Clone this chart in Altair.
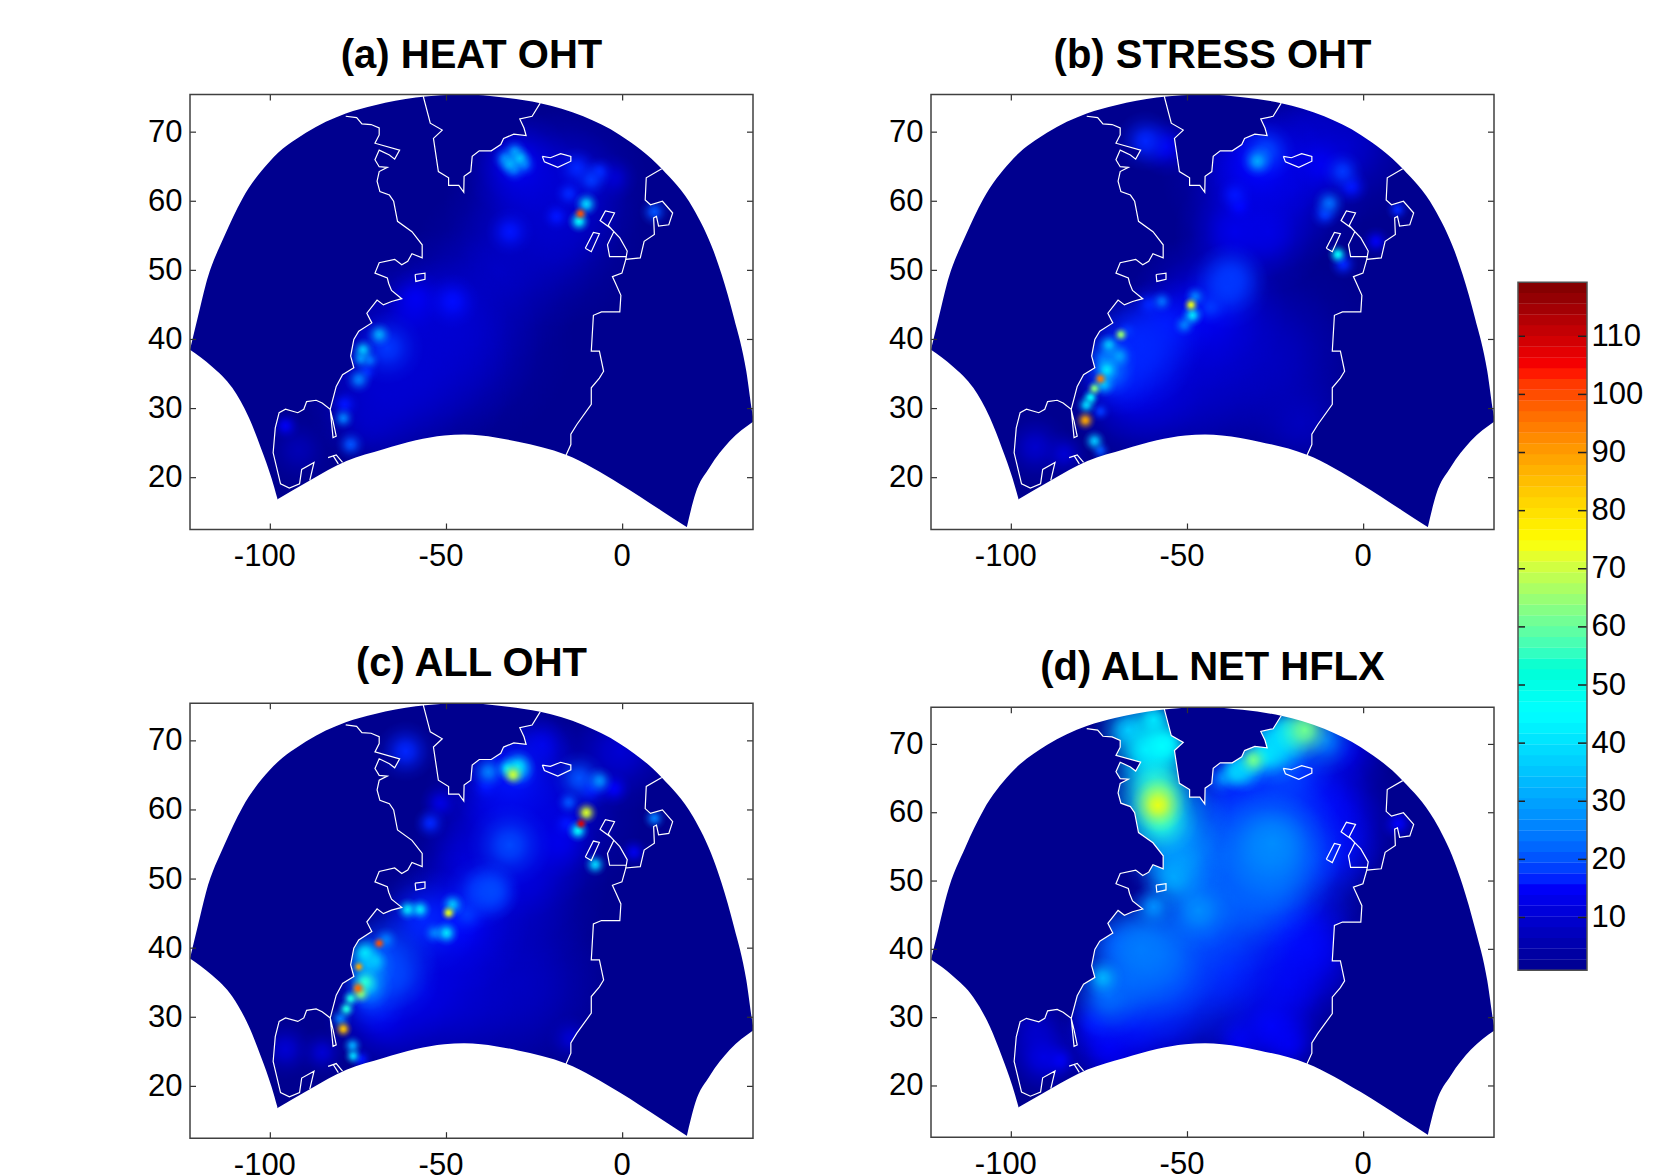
import altair as alt
import pandas as pd

# ---------- axes ----------
LON_MIN, LON_MAX = -122.8, 37.0
LAT_MIN, LAT_MAX = 12.5, 75.45
X_TICKS = [-100, -50, 0]
Y_TICKS = [20, 30, 40, 50, 60, 70]
CB_TICKS = [10, 20, 30, 40, 50, 60, 70, 80, 90, 100, 110]
CB_MIN, CB_MAX, CB_VIEW_MAX = 0.93, 119.3, 151.6
CB_LEVELS = [1.86,3.71,5.56,7.41,9.26,11.11,12.96,14.81,16.66,18.51,20.36,22.21,24.06,25.91,27.76,29.61,
             31.46,33.31,35.16,37.01,38.86,40.71,42.56,44.41,46.26,48.11,49.96,51.81,53.66,55.51,57.36,59.21,
             61.06,62.91,64.76,66.61,68.46,70.31,72.16,74.01,75.86,77.71,79.56,81.41,83.26,85.11,86.96,88.81,
             90.66,92.51,94.36,96.21,98.06,99.91,101.76,103.61,105.46,107.31,109.16,111.01,112.86,114.71,116.56,118.41]

# ---------- colours ----------
DARK = "#00008f"
JET_DOMAIN = [1, 15.75, 45.25, 74.75, 104.25, 119]
JET_RGB = [(0, 0, 143), (0, 0, 255), (0, 255, 255), (255, 255, 0), (255, 0, 0), (128, 0, 0)]
FONT = "Liberation Sans"

# ---------- domain edge (lon, lat) ----------
UPPER_EDGE = [(-122.8,38.5),(-120.5,43.4),(-118.3,48.0),(-113.0,55.0),(-108.0,60.3),(-100.3,65.7),(-89.9,69.9),(-78.6,72.7),
              (-70.3,73.9),(-58.7,75.0),(-44.8,75.45),(-34.4,75.06),(-23.4,74.2),(-11.2,72.3),(-0.8,69.6),(11.1,64.7),
              (20,59),(25.8,52.8),(28.1,49.4),(31.6,43.1),(35.1,35.4),(36.8,29.4),(37,28.8)]
LOWER_LEFT = [(-122.8,38.5),(-116.6,36.1),(-110.8,33),(-106.1,28.7),(-102.6,24.2),(-99.7,20),(-98,17)]
LOWER_MID = [(-98.2,16.8),(-88.8,19.6),(-78.4,22.4),(-67.9,24.1),(-58.7,25.4),(-50.6,26.1),(-45,26.25),(-40.2,26.1),(-29.7,25.2),
             (-16.1,23.3),(-0.8,19.1),(10.8,15.3),(18.4,12.8)]
LOWER_RIGHT = [(18.2,12.8),(20.6,17.6),(24.7,21.5),(30.4,25.3),(37,28.1)]

# ---------- coast lines (lon, lat) ----------
NA_COAST = [(-78.6,72.3),(-75.5,72.1),(-74.0,71.2),(-71.4,71.1),(-69.1,70.6),(-69.1,69.6),(-70.3,68.4),(-63.3,67.4),(-64.7,66.1),
            (-66.2,66.7),(-69.1,67.4),(-70.3,66.0),(-69.1,65.0),(-66.8,64.9),(-69.1,64.3),(-69.7,62.9),(-68.9,61.4),(-66.2,60.9),
            (-65.0,60.0),(-63.9,57.1),(-59.8,55.6),(-56.9,53.7),(-56.9,51.8),(-59.8,52.4),(-61.0,51.3),(-62.7,50.8),(-64.7,51.6),
            (-69.1,51.1),(-70.3,49.6),(-66.8,48.9),(-66.4,48.1),(-65.6,47.1),(-62.7,45.9),(-65.6,45.5),(-67.9,45.0),(-69.7,45.7),
            (-72.6,43.8),(-71.2,42.4),(-74.9,41.2),(-76.3,40.0),(-77.2,37.6),(-76.3,35.9),(-79.5,34.9),(-81.3,33.2),(-83.0,29.9),
            (-82.2,25.8),(-81.3,26.0),(-82.2,28.2),(-83.0,29.9),(-85.3,30.8),(-87.0,31.2),(-89.7,31.0),(-90.5,29.9),(-92.2,29.4),
            (-95.7,29.9),(-97.5,29.4),(-98.6,27.2),(-99.2,23.6),(-97.1,19.1),(-94.6,18.5),(-91.7,19.1),(-91.1,21.2),(-87.6,22.2),(-88.8,19.6)]
GREENLAND = [(-56.6,75.2),(-54.6,71.3),(-51.2,70.3),(-53.7,69.1),(-52.3,64.3),(-49.4,63.4),(-49.4,62.3),(-46.5,62.3),(-45.1,61.3),
             (-45.0,63.6),(-43.1,64.3),(-42.7,66.5),(-40.7,67.3),(-37.3,67.3),(-34.6,68.2),(-33.8,69.1),(-30.9,69.7),(-27.4,69.5),
             (-28.0,70.6),(-29.2,71.9),(-25.7,72.3),(-23.4,74.2)]
ICELAND = [(-22.8,66.5),(-20.5,66.3),(-17.6,66.9),(-14.7,66.5),(-14.7,65.8),(-18.4,64.9),(-22.2,65.7),(-22.8,66.5)]
IRELAND = [(-10.6,53.2),(-8.3,55.5),(-6.6,55.3),(-8.9,52.7),(-10.6,53.2)]
NEWFOUNDLAND = [(-58.9,49.4),(-56.1,49.6),(-56.1,48.7),(-58.7,48.4),(-58.9,49.4)]
EUROPE = [(11.1,64.7),(6.7,63.4),(6.4,60.2),(7.9,59.5),(11.3,60.0),(14.2,58.3),(13.1,56.6),(10.2,56.4),(9.6,57.8),(8.8,57.6),
          (9.0,55.2),(6.1,54.2),(5.0,51.8),(0.9,51.6),(-0.2,49.6),(-2.9,49.1),(-2.0,48.1),(-0.5,46.4),(-0.8,44.0),(-6.0,44.0),
          (-8.3,43.5),(-8.9,38.3),(-6.6,38.3),(-5.4,35.4),(-6.6,34.4),(-8.9,33.0),(-8.9,30.6),(-13.0,27.7),(-14.7,26.3),(-14.7,24.8),(-16.1,23.2)]
BRITAIN = [(0.9,51.6),(1.3,52.8),(-0.8,54.7),(-3.4,56.1),(-6.4,57.2),(-4.9,58.6),(-2.3,58.3),(-4.1,56.5),(-2.5,55.6),(-4.3,53.7),(-3.7,52.0),(0.9,52.0)]
CUBA_A = [(-83.6,22.9),(-81.3,23.3),(-79.5,22.2)]
CUBA_B = [(-82.2,23.2),(-80.7,22.0)]
COASTS = [NA_COAST, GREENLAND, ICELAND, IRELAND, NEWFOUNDLAND, EUROPE, BRITAIN, CUBA_A, CUBA_B]

# land masks: coast plus closing corners
LAND_WEST = [(-78.6,78)] + NA_COAST + [(-89,8),(-128,8),(-128,78)]
LAND_GREEN = GREENLAND + [(-23.4,78),(-56.6,78)]
LAND_EAST = EUROPE + [(-16.1,8),(42,8),(42,78),(11.1,78)]
LANDS = [LAND_WEST, LAND_GREEN, LAND_EAST]

# ---------- field spots: lon, lat, value, diameter ----------
SPOTS_A = [(-30,65.5,14,90),(-33.4,66.2,30,22),(-32.1,65.4,36,22),(-30.7,64.6,28,22),(-30.7,67.2,32,22),(-29.2,66.2,38,22),(-27.9,65.3,28,22),
 (-12,58.2,95,13),(-12.4,57.1,45,20),(-10.3,59.6,40,22),(-15.3,61.1,20,25),(-18.8,57.8,18,25),(-8.9,63.1,22,30),(-13,64.8,20,35),(-6.6,64.3,20,25),
 (9,58.5,25,25),(-32,55.6,18,40),(-2.5,63.4,10,40),(-25,60,9,150),(-20,55,8,150),(-15,62,10,130),(-35,50,8,150),
 (-48.3,45.5,17,45),(-50,43.5,10,100),(-69.1,40.7,35,22),(-66.8,38.8,22,60),(-73.7,38.5,38,20),(-74.3,37.2,32,20),(-71.7,37,28,18),(-74.9,34.2,30,24),
 (-72.6,35.4,20,20),(-78.9,30.6,18,25),(-79.3,28.6,30,20),(-77.2,24.8,25,25),(-95.7,27.5,14,25),(-58.7,45.9,14,50),(-60,43.5,11,50),
 (-62,36,10,180),(-68,32,9,130),(-55,40,9,180),(-45,40,7,180),(-72,28,7,80),(-92,24,6,60)]
SPOTS_B = [(-30.1,65.8,35,28),(-27.8,67.2,24,50),(-29.5,65.6,16,110),(-61.9,68.7,20,50),(-56.1,67.9,14,50),(-6,64.3,22,35),(-3.5,62.1,18,30),
 (-9.8,59.7,28,28),(-11,58.1,22,25),(-7.3,52.3,45,18),(-5.8,50.9,20,25),(-36.5,60.9,18,30),(-35.3,59.3,16,25),(9.6,58.8,20,20),(3.5,54.2,14,25),
 (-12.2,65.3,14,60),(-37.6,48.9,22,60),(-36.5,55.6,13,100),(-27.2,55.6,12,100),(-20,62,10,130),(-5,68,9,130),(-15,70,8,100),(-35,64,9,130),
 (-49,45,72,14),(-48.6,43.5,42,20),(-47.8,46.2,30,20),(-50.9,42.1,30,20),(-43.4,44.7,22,30),(-38.8,47.6,22,70),(-57.3,45.5,28,20),(-60.8,45,20,25),
 (-68.9,40.7,62,14),(-67.1,41.2,22,18),(-72.3,39.2,38,20),(-69.4,37.6,34,22),(-73.5,37.1,30,20),(-72.9,35.6,42,22),(-74.7,34.3,90,13),(-73.7,33.5,38,22),
 (-76.4,32.9,60,14),(-77.5,31.6,45,16),(-78.7,30.5,40,18),(-74.7,29.6,22,18),(-79,28.3,85,18),(-76.4,25.3,38,20),(-74.7,23.9,25,18),
 (-72,37,29,45),(-71.5,35,27,40),(-65.4,37.8,20,100),(-63.1,39.2,20,100),(-70.6,34.9,20,70),(-56.1,42.1,18,80),(-44.6,44,14,130),(-65.4,32.5,12,110),(-56.1,34,10,170),(-41,37.8,8,200),
 (-27,37,7,180),(-93.2,24.4,9,60),(-85,23.4,10,40),(-18,28,7,100)]
SPOTS_C = [(-31.1,65.1,68,20),(-29.7,66.3,42,30),(-32.6,66,42,22),(-29.2,65.5,28,30),(-31.5,65.5,18,110),(-38.1,65.5,30,30),(-38.7,63.4,18,25),
 (-61.6,68.5,20,50),(-54.6,58.1,20,28),(-51.7,61,12,35),(-10.3,59.6,70,20),(-11.8,58,108,12),(-12.7,57,45,20),(-15.3,61.1,25,22),(-6.6,64.2,32,25),
 (-12.4,64.6,25,45),(-8.9,63.1,18,35),(-2.5,63.1,15,30),(-7.8,52.1,40,20),(9,58.8,30,20),(3.2,53.9,13,25),(-32.1,54.9,24,70),(-15.9,58,18,25),
 (-18.2,55.4,13,60),(-40.2,48.1,22,60),(-37.8,48.1,20,50),(-0.8,68.5,10,100),(-22.8,69.4,12,60),(-35,60,11,130),(-20,60,10,150),(-28,56,12,130),
 (-45,53,9,100),(-30,50,11,150),
 (-49.4,45.1,72,14),(-48.3,46.3,38,22),(-50,42.2,42,22),(-53.5,42.2,30,20),(-61,45.6,42,20),(-57.5,45.6,42,20),(-44.2,44.9,22,35),(-37.2,48.3,24,50),
 (-69.1,40.7,95,12),(-67.2,41.2,30,22),(-73.1,39.3,42,28),(-70.2,38.1,38,22),(-74.9,37.3,85,11),(-73.1,35.1,50,24),(-75.1,34.2,92,14),(-74.3,33.4,60,18),
 (-77.2,32.7,48,16),(-78.4,31.2,48,16),(-80.1,29.8,30,20),(-79.3,28.3,82,16),(-76.7,25.9,35,18),(-76.5,24.4,40,16),(-74.2,23.9,18,20),
 (-72,37.5,36,45),(-72,34.5,36,40),(-68,38.5,24,90),(-65.6,36.1,24,80),(-71.4,32.7,22,60),(-56.4,43.9,20,90),(-47.1,43.9,16,120),(-68,30.3,13,100),(-56.4,33.7,12,150),(-41.4,35.1,8,200),
 (-29.7,35.1,7,180),(-95.7,25.4,10,50),(-85.3,24.9,10,40),(-14.7,26.9,10,40)]
SPOTS_D = [(-58.4,61.1,72,45),(-58.4,62.8,55,60),(-57.3,58.9,50,60),(-58.4,60.9,38,120),(-59.6,65.3,40,70),(-61.9,69.2,42,70),(-57.3,69.7,45,60),
 (-66.8,72.1,38,60),(-59.6,73.6,42,50),(-56.1,70.1,40,40),(-53.8,56,30,100),(-51.5,53.1,32,80),(-53.8,50.6,35,60),
 (-16.8,72.1,58,50),(-21.4,71.6,42,60),(-24,70.5,40,50),(-28,68.5,42,40),(-35,66.4,40,40),(-40,65,30,30),(-11,70.6,30,60),(-26,69.2,38,60),(-31.3,67.7,58,28),(-36.5,65.8,38,30),(-33,66.5,35,40),(-5.2,69.2,12,80),
 (-22.6,68.2,25,90),(-21.4,65.3,20,100),(-33,63.8,18,100),(-25,63,14,150),
 (-26,55.5,32,120),(-27.2,52.6,28,120),(-38.8,53.6,23,140),(-21.4,60.4,18,140),(-9.8,60.4,14,120),(-36.5,59.4,20,130),(-44.6,50.6,25,130),(-15.6,53,20,120),
 (-7.5,55.5,13,100),(9.8,58.4,15,30),
 (-46.9,45.7,32,70),(-59.6,46.2,32,40),(-35.3,46.9,26,120),(-27.2,49.1,26,100),(-44.6,42,23,140),(-63.1,40,30,100),(-58.4,39,28,110),(-68.9,40.5,24,60),
 (-74,35.8,36,35),(-72.3,33.1,28,70),(-65.4,35.6,26,120),(-53.8,35.6,22,140),(-38.8,37,18,160),(-21.4,43.4,17,140),(-15.6,40,14,110),(-21.4,35.1,13,120),
 (-26,28.7,15,90),(-35.3,26.7,13,60),(-21.4,26.2,13,60),(-65.4,29.2,15,110),(-75.8,29.2,17,60),(-72.3,25.7,14,80),(-56.1,30.1,10,120),(-90.9,24.2,12,70),
 (-93.2,28.2,8,70),(-86.2,23.7,14,30)]


def jet(v):
    for i in range(len(JET_DOMAIN) - 1):
        a, b = JET_DOMAIN[i], JET_DOMAIN[i + 1]
        if v <= b:
            t = max(0.0, (v - a) / (b - a))
            return tuple(round(p + (q - p) * t) for p, q in zip(JET_RGB[i], JET_RGB[i + 1]))
    return JET_RGB[-1]


def gradient(v):
    r, g, b = jet(v)
    c = lambda a: f"rgba({r},{g},{b},{a})"
    return alt.RadialGradient(gradient="radial", x1=0.5, y1=0.5, r1=0, x2=0.5, y2=0.5, r2=0.5,
                              stops=[alt.GradientStop(offset=0, color=c(1)),
                                     alt.GradientStop(offset=0.25, color=c(0.78)),
                                     alt.GradientStop(offset=0.5, color=c(0.4)),
                                     alt.GradientStop(offset=0.75, color=c(0.13)),
                                     alt.GradientStop(offset=1, color=c(0))])


def panel(spots, title, w, h, title_offset):
    xs = alt.Scale(domain=[LON_MIN, LON_MAX], nice=False, zero=False)
    ys = alt.Scale(domain=[LAT_MIN, LAT_MAX], nice=False, zero=False)
    xaxis = alt.Axis(values=X_TICKS, title=None, grid=False, domain=False, tickSize=0, labelFont=FONT, labelFontSize=31,
                     labelColor="black", labelPadding=12, labelFlush=False, labelExpr="'' + datum.value",
                     labelOffset={"condition": {"test": "datum.value < 0", "value": -6}, "value": -1})
    yaxis = alt.Axis(values=Y_TICKS, title=None, grid=False, domain=False, tickSize=0, labelFont=FONT, labelFontSize=31,
                     labelColor="black", labelPadding=8)
    X = alt.X("lon:Q", scale=xs, axis=xaxis)
    Y = alt.Y("lat:Q", scale=ys, axis=yaxis)
    one = pd.DataFrame({"a": [0]})
    layers = [alt.Chart(one).mark_rect(color=DARK).encode(x=alt.value(0), x2=alt.value(w), y=alt.value(0), y2=alt.value(h))]
    df = pd.DataFrame(spots, columns=["lon", "lat", "val", "d"])
    df["size"] = (df["d"] * 1.22) ** 2
    for v in sorted(df["val"].unique()):
        sub = df[df["val"] == v].sort_values("d", ascending=False)
        layers.append(alt.Chart(sub).mark_point(filled=True, shape="circle", opacity=1, strokeWidth=0, fill=gradient(v), clip=True)
                      .encode(x=X, y=Y, size=alt.Size("size:Q", scale=None, legend=None)))
    for land in LANDS:
        d = pd.DataFrame(land, columns=["lon", "lat"]).reset_index()
        layers.append(alt.Chart(d).mark_line(fill=DARK, stroke=DARK, strokeWidth=0, clip=True)
                      .encode(x=X, y=Y, order="index:Q"))
    for edge, lim in ((UPPER_EDGE, LAT_MAX), (LOWER_LEFT, LAT_MIN), (LOWER_MID, LAT_MIN), (LOWER_RIGHT, LAT_MIN)):
        d = pd.DataFrame(edge, columns=["lon", "lat"]).assign(lim=lim)
        layers.append(alt.Chart(d).mark_area(color="white", clip=True, opacity=1, interpolate="monotone").encode(x=X, y=Y, y2="lim:Q"))
    rows = [(i, j, lon, lat) for i, seg in enumerate(COASTS) for j, (lon, lat) in enumerate(seg)]
    cd = pd.DataFrame(rows, columns=["seg", "idx", "lon", "lat"])
    layers.append(alt.Chart(cd).mark_line(color="white", strokeWidth=1.2, clip=True)
                  .encode(x=X, y=Y, detail="seg:N", order="idx:Q"))
    # inward ticks
    xt = pd.DataFrame({"lon": X_TICKS})
    yt = pd.DataFrame({"lat": Y_TICKS})
    tick = "#303030"
    layers.append(alt.Chart(xt).mark_rule(color=tick, strokeWidth=1.2).encode(x=X, y=alt.value(0), y2=alt.value(6)))
    layers.append(alt.Chart(xt).mark_rule(color=tick, strokeWidth=1.2).encode(x=X, y=alt.value(h - 6), y2=alt.value(h)))
    layers.append(alt.Chart(yt).mark_rule(color=tick, strokeWidth=1.2).encode(y=Y, x=alt.value(0), x2=alt.value(6)))
    layers.append(alt.Chart(yt).mark_rule(color=tick, strokeWidth=1.2).encode(y=Y, x=alt.value(w - 6), x2=alt.value(w)))
    layers.append(alt.Chart(one).mark_rect(filled=False, stroke="#404040", strokeWidth=1.5, fill="transparent")
                  .encode(x=alt.value(0), x2=alt.value(w), y=alt.value(0), y2=alt.value(h)))
    return alt.layer(*layers).properties(
        width=w, height=h,
        view=alt.ViewConfig(stroke=None),
        title=alt.Title(title, font=FONT, fontSize=40, fontWeight="bold", color="black", offset=title_offset, anchor="middle"))


W = 563
a = panel(SPOTS_A, "(a) HEAT OHT", W, 435, 18)
b = panel(SPOTS_B, "(b) STRESS OHT", W, 435, 18)
c = panel(SPOTS_C, "(c) ALL OHT", W, 435, 18)
d = panel(SPOTS_D, "(d) ALL NET HFLX", W, 430, 18)

# colour bar
cb_h = 875.7
cb = pd.DataFrame({"level": CB_LEVELS})
cb["lo"] = cb["level"] - 0.95
cb["hi"] = cb["level"] + 0.95
cb_scale = alt.Scale(domain=[CB_MIN, CB_VIEW_MAX], nice=False, zero=False)
cb_axis = alt.Axis(values=CB_TICKS, orient="right", title=None, grid=False, domain=False, tickSize=0, labelFont=FONT,
                   labelFontSize=31, labelColor="black", labelPadding=4, format="d")
CBY = alt.Y("lo:Q", scale=cb_scale, axis=cb_axis)
jet_hex = ["#%02x%02x%02x" % t for t in JET_RGB]
bar_w = 69
rects = alt.Chart(cb).mark_rect().encode(
    x=alt.value(0), x2=alt.value(bar_w), y=CBY, y2="hi:Q",
    color=alt.Color("level:Q", scale=alt.Scale(domain=JET_DOMAIN, range=jet_hex), legend=None))
t = pd.DataFrame({"lo": CB_TICKS})
tl = alt.Chart(t).mark_rule(color="#202020", strokeWidth=1.5).encode(y=CBY, x=alt.value(0), x2=alt.value(7))
tr = alt.Chart(t).mark_rule(color="#202020", strokeWidth=1.5).encode(y=CBY, x=alt.value(bar_w - 9), x2=alt.value(bar_w))
frame_df = pd.DataFrame({"lo": [CB_MIN], "hi": [CB_MAX]})
frame = alt.Chart(frame_df).mark_rect(filled=False, stroke="#505050", strokeWidth=1.5, fill="transparent").encode(
    x=alt.value(0), x2=alt.value(bar_w), y=CBY, y2="hi:Q")
bar = alt.layer(rects, tl, tr, frame).properties(width=bar_w, height=cb_h, view=alt.ViewConfig(stroke=None))

left = alt.vconcat(a, c, spacing=173.7, bounds="flush")
mid = alt.vconcat(b, d, spacing=177.7, bounds="flush")
right = alt.hconcat(mid, bar, spacing=22)
chart = alt.hconcat(left, right, spacing=134).properties(
    padding={"left": 139, "top": 27.5, "right": 0, "bottom": 0}, background="white")
chart.save("out.html", embed_options={"renderer": "svg", "actions": False})
